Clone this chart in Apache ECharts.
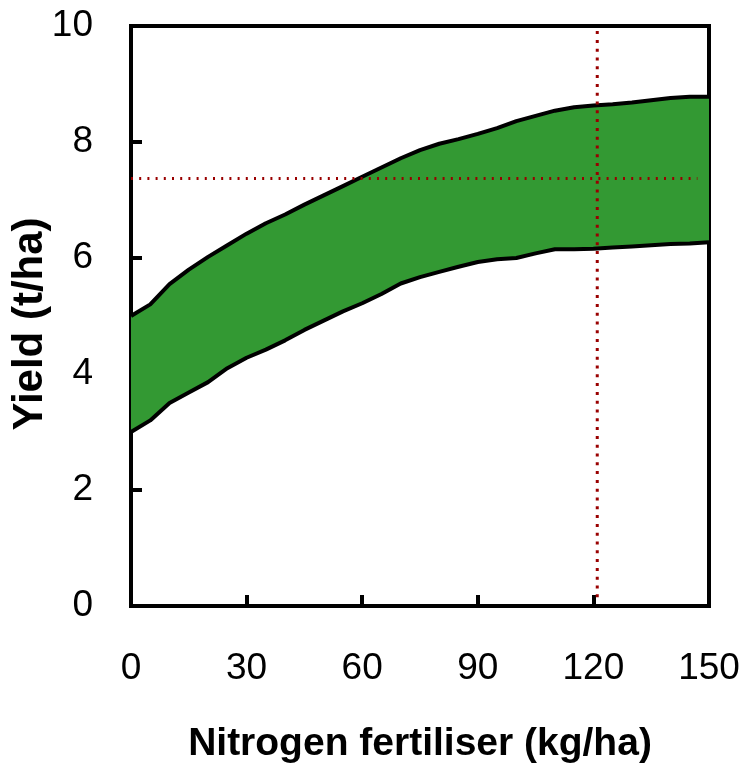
<!DOCTYPE html>
<html>
<head>
<meta charset="utf-8">
<script src="https://cdn.jsdelivr.net/npm/echarts@6/dist/echarts.min.js"></script>
<style>
html,body{margin:0;padding:0;background:#fff;}
#chart{width:744px;height:770px;}
</style>
</head>
<body>
<div id="chart"></div>
<script>
// Nitrogen fertiliser rates (kg/ha)
var nitrogen = [0,5,10,15,20,25,30,35,40,45,50,55,60,65,70,75,80,85,90,95,100,105,110,115,120,125,130,135,140,145,150];
// Upper bound of yield band (t/ha)
var yieldUpper = [5.0,5.2,5.55,5.8,6.02,6.22,6.42,6.6,6.75,6.92,7.08,7.24,7.4,7.56,7.72,7.86,7.97,8.05,8.14,8.24,8.36,8.45,8.54,8.6,8.63,8.65,8.68,8.72,8.76,8.78,8.78];
// Lower bound of yield band (t/ha)
var yieldLower = [3.0,3.2,3.5,3.68,3.86,4.1,4.28,4.42,4.58,4.76,4.92,5.08,5.22,5.38,5.56,5.67,5.76,5.85,5.93,5.98,6.0,6.08,6.15,6.15,6.16,6.18,6.2,6.22,6.24,6.25,6.27];
// Reference lines
var refYield = 7.37;      // horizontal dotted line
var refYieldEndN = 147;   // where it stops
var refNitrogen = 121;    // vertical dotted line
var refNitrogenFrom = 0.15;
var refNitrogenTo = 10;
// Axis ticks
var xTicks = [0,30,60,90,120,150];
var yTicks = [0,2,4,6,8,10];

var upperData = nitrogen.map(function(n,i){return [n, yieldUpper[i]];});
var lowerData = nitrogen.map(function(n,i){return [n, yieldLower[i]];});
var bandData = nitrogen.map(function(n,i){return [n, yieldLower[i], yieldUpper[i]];});

var font = "'Liberation Sans', Arial, sans-serif";

function renderBand(params, api){
  if (params.dataIndex !== 0) return null;
  var pts = [];
  for (var i = 0; i < nitrogen.length; i++) pts.push(api.coord([nitrogen[i], yieldUpper[i]]));
  for (var j = nitrogen.length - 1; j >= 0; j--) pts.push(api.coord([nitrogen[j], yieldLower[j]]));
  return {type:'polygon', shape:{points:pts}, style:{fill:'#339933', stroke:null}};
}

var chart = echarts.init(document.getElementById('chart'), null, {renderer:'canvas'});
chart.setOption({
  backgroundColor:'#fff',
  animation:false,
  grid:{left:131, right:35, top:26, bottom:164, show:true, borderColor:'#000', borderWidth:4,
        backgroundColor:'transparent', containLabel:false, outerBoundsMode:'none'},
  xAxis:{
    type:'value', min:xTicks[0], max:xTicks[xTicks.length-1], interval:xTicks[1]-xTicks[0],
    name:'Nitrogen fertiliser (kg/ha)', nameLocation:'middle', nameGap:119, nameMoveOverlap:false,
    nameTextStyle:{fontFamily:font, fontWeight:'bold', fontSize:39, color:'#000'},
    axisLine:{show:true, lineStyle:{color:'#000', width:4}},
    axisTick:{show:true, inside:true, length:11, lineStyle:{color:'#000', width:4}},
    axisLabel:{margin:44, fontFamily:font, fontSize:37, color:'#000'},
    splitLine:{show:false}
  },
  yAxis:{
    type:'value', min:yTicks[0], max:yTicks[yTicks.length-1], interval:yTicks[1]-yTicks[0],
    name:'Yield (t/ha)', nameLocation:'middle', nameGap:80, nameMoveOverlap:false,
    nameTextStyle:{fontFamily:font, fontWeight:'bold', fontSize:42, color:'#000', padding:[0,16,0,0]},
    axisLine:{show:true, lineStyle:{color:'#000', width:4}},
    axisTick:{show:true, inside:true, length:11, lineStyle:{color:'#000', width:4}},
    axisLabel:{margin:38, fontFamily:font, fontSize:37, color:'#000'},
    splitLine:{show:false}
  },
  series:[
    {type:'custom', renderItem:renderBand, data:bandData, z:1, silent:true,
     encode:{x:0, y:[1,2]}},
    {type:'line', data:lowerData, symbol:'none', z:3,
     lineStyle:{color:'#000', width:4}},
    {type:'line', data:upperData, symbol:'none', z:3,
     lineStyle:{color:'#000', width:4}},
    {type:'line', data:[[0,refYield],[refYieldEndN,refYield]], symbol:'none', z:5,
     lineStyle:{color:'#990000', width:3, type:[2,6.2]}},
    {type:'line', data:[[refNitrogen,refNitrogenFrom],[refNitrogen,refNitrogenTo]], symbol:'none', z:5,
     lineStyle:{color:'#990000', width:3, type:[3,5.8]}}
  ]
});
</script>
</body>
</html>
